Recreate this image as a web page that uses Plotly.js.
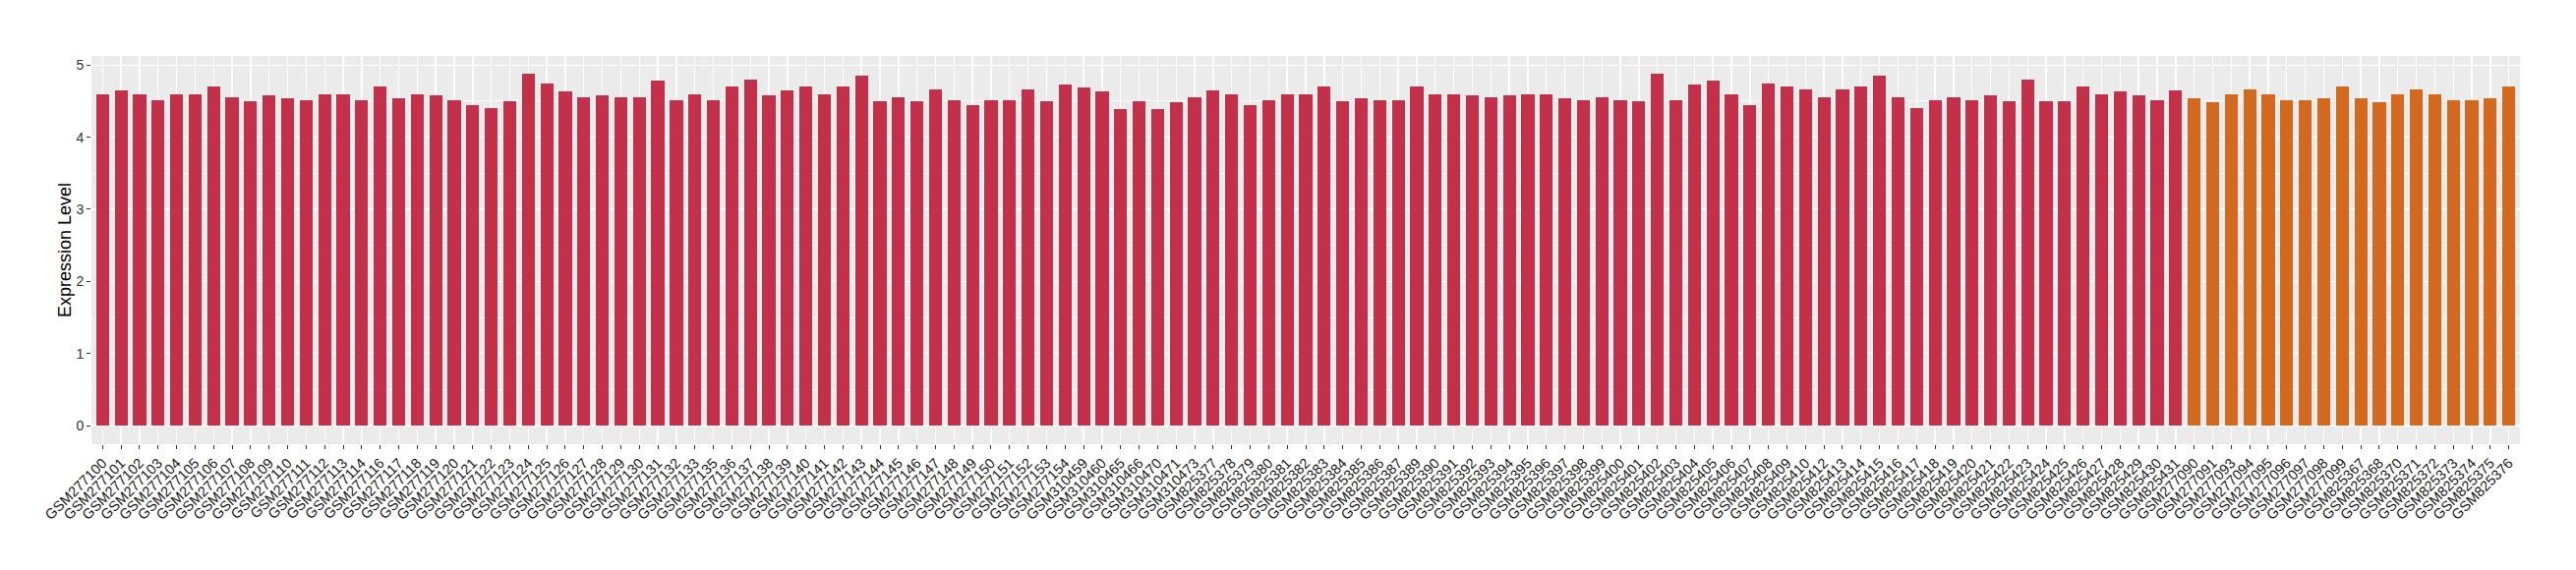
<!DOCTYPE html>
<html>
<head>
<meta charset="utf-8">
<script src="https://cdn.plot.ly/plotly-3.0.1.min.js"></script>
<style>html,body{margin:0;padding:0;background:#fff;}#chart{width:2620px;height:580px;}</style>
</head>
<body>
<div id="chart"></div>
<script>
const samplesA = ['GSM277100','GSM277101','GSM277102','GSM277103','GSM277104','GSM277105','GSM277106','GSM277107','GSM277108','GSM277109','GSM277110','GSM277111','GSM277112','GSM277113','GSM277114','GSM277116','GSM277117','GSM277118','GSM277119','GSM277120','GSM277121','GSM277122',
'GSM277123','GSM277124','GSM277125','GSM277126','GSM277127','GSM277128','GSM277129','GSM277130','GSM277131','GSM277132','GSM277133','GSM277135','GSM277136','GSM277137','GSM277138','GSM277139','GSM277140','GSM277141','GSM277142','GSM277143','GSM277144','GSM277145',
'GSM277146','GSM277147','GSM277148','GSM277149','GSM277150','GSM277151','GSM277152','GSM277153','GSM277154','GSM310459','GSM310460','GSM310465','GSM310466','GSM310470','GSM310471','GSM310473','GSM825377','GSM825378','GSM825379','GSM825380','GSM825381',
'GSM825382','GSM825383','GSM825384','GSM825385','GSM825386','GSM825387','GSM825389','GSM825390','GSM825391','GSM825392','GSM825393','GSM825394','GSM825395','GSM825396','GSM825397','GSM825398','GSM825399','GSM825400','GSM825401','GSM825402','GSM825403','GSM825404','GSM825405','GSM825406',
'GSM825407','GSM825408','GSM825409','GSM825410','GSM825412','GSM825413','GSM825414','GSM825415','GSM825416','GSM825417','GSM825418','GSM825419','GSM825420','GSM825421','GSM825422','GSM825423','GSM825424','GSM825425','GSM825426','GSM825427','GSM825428','GSM825429','GSM825430','GSM825431'];
const valuesA = [4.59,4.65,4.60,4.52,4.60,4.60,4.70,4.56,4.50,4.58,4.54,4.51,4.59,4.60,4.52,4.71,4.54,4.59,4.58,4.51,4.44,4.41,
4.50,4.88,4.75,4.63,4.56,4.58,4.56,4.55,4.78,4.52,4.59,4.51,4.70,4.80,4.58,4.65,4.70,4.60,4.71,4.85,4.50,4.55,
4.50,4.67,4.52,4.44,4.51,4.52,4.66,4.50,4.73,4.69,4.63,4.39,4.50,4.39,4.48,4.55,4.65,4.60,4.44,4.52,4.60,
4.60,4.70,4.50,4.54,4.51,4.52,4.71,4.59,4.59,4.58,4.56,4.58,4.59,4.60,4.54,4.51,4.56,4.52,4.50,4.88,4.52,4.73,4.78,4.59,
4.44,4.75,4.71,4.66,4.56,4.67,4.70,4.85,4.55,4.41,4.52,4.55,4.51,4.58,4.50,4.80,4.50,4.50,4.70,4.60,4.63,4.58,4.51,4.65];
const samplesB = ['GSM277090','GSM277091','GSM277093','GSM277094','GSM277095','GSM277096','GSM277097','GSM277098','GSM277099','GSM825367','GSM825368','GSM825370','GSM825371','GSM825372','GSM825373','GSM825374','GSM825375','GSM825376'];
const valuesB = [4.54,4.48,4.59,4.66,4.59,4.51,4.51,4.54,4.71,4.54,4.48,4.59,4.66,4.59,4.51,4.51,4.54,4.71];
const yTicks = [0,1,2,3,4,5];
const colorA = '#C2304A';
const colorB = '#D2691E';

const order = samplesA.concat(samplesB);
const font = 'Liberation Sans, Arial, sans-serif';

const traces = [
  {type:'bar', x:samplesA, y:valuesA, marker:{color:colorA}, width:0.7, showlegend:false, hoverinfo:'x+y'},
  {type:'bar', x:samplesB, y:valuesB, marker:{color:colorB}, width:0.7, showlegend:false, hoverinfo:'x+y'}
];

const layout = {
  width:2620, height:580,
  margin:{l:93, r:57, t:57, b:128, pad:0},
  paper_bgcolor:'#FFFFFF',
  plot_bgcolor:'#EBEBEB',
  font:{family:font, color:'#4D4D4D'},
  barmode:'overlay',
  bargap:0,
  xaxis:{
    type:'category', categoryorder:'array', categoryarray:order,
    tickmode:'array', tickvals:order, ticktext:order,
    range:[-0.6, order.length - 0.4],
    tickangle:-45, tickfont:{size:14.5, color:'#1A1A1A', family:font},
    ticks:'outside', ticklen:4, tickcolor:'#333333', tickwidth:1,
    showgrid:true, gridcolor:'#FFFFFF', gridwidth:1.4,
    zeroline:false, showline:false, automargin:false
  },
  yaxis:{
    range:[-0.259, 5.127],
    tickvals:yTicks, ticktext:yTicks.map(String),
    tickfont:{size:14, color:'#333333', family:font},
    ticks:'outside', ticklen:4, tickcolor:'#333333', tickwidth:1,
    showgrid:true, gridcolor:'#FFFFFF', gridwidth:1.4,
    minor:{dtick:0.5, tick0:0, showgrid:true, gridcolor:'#FFFFFF', gridwidth:0.7, ticks:''},
    zeroline:false, showline:false, automargin:false,
    title:{text:'Expression Level', font:{size:18, color:'#000000', family:font}, standoff:0}
  }
};

Plotly.newPlot('chart', traces, layout, {displayModeBar:false, staticPlot:true});
</script>
</body>
</html>
